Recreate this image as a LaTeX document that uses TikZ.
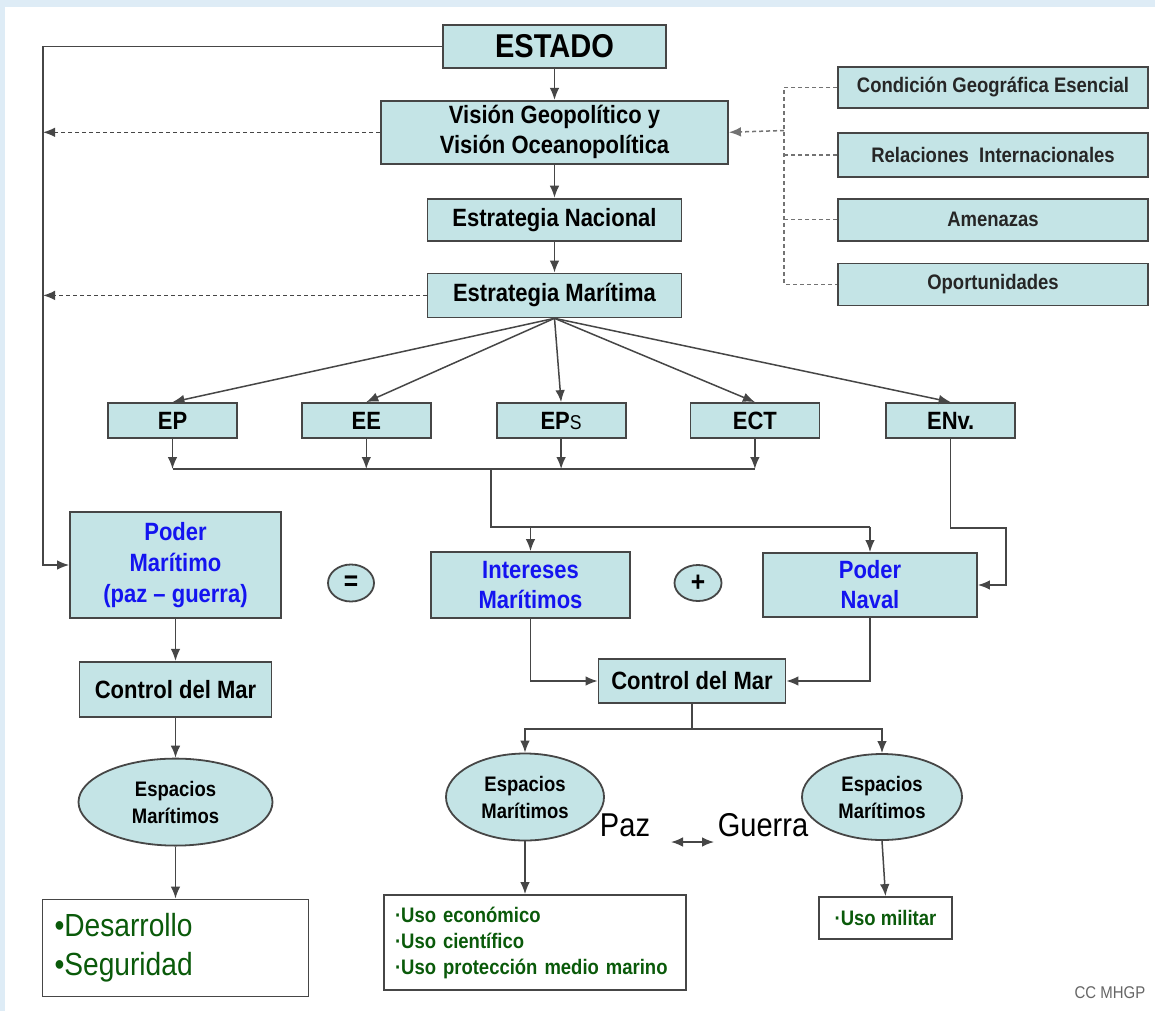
\documentclass[tikz,border=0pt]{standalone}
\usepackage{fontspec}
\setmainfont{Liberation Sans}[FakeStretch=0.88]
\usetikzlibrary{arrows,arrows.meta,calc,positioning,shapes}

\definecolor{boxfill}{RGB}{196,228,230}
\definecolor{boxline}{RGB}{70,70,70}
\definecolor{textblue}{RGB}{20,20,240}
\definecolor{textgreen}{RGB}{10,90,10}
\definecolor{bgblue}{RGB}{222,236,246}

\begin{document}
\begin{tikzpicture}[x=0.5pt,y=-0.5pt,>={Latex[length=6pt,width=4.8pt]}]
	\tikzstyle{block} = [draw=boxline, fill=boxfill, rectangle, line width=0.9pt, inner sep=0pt, align=center, font=\bfseries\fontsize{12.5}{15}\selectfont]
	\tikzstyle{side} = [block, minimum width=155pt, minimum height=21pt, text=black!85, font=\bfseries\fontsize{10.5}{12}\selectfont]
	\tikzstyle{sub} = [block, minimum width=64.5pt, minimum height=17.5pt]
	\tikzstyle{zone} = [draw=boxline, fill=boxfill, ellipse, line width=0.9pt, inner sep=0pt, align=center, font=\bfseries\fontsize{10.5}{13.5}\selectfont]
	\tikzstyle{sign} = [zone, font=\bfseries\fontsize{14}{14}\selectfont]
	\tikzstyle{list} = [draw=boxline, fill=white, rectangle, line width=0.9pt, inner sep=0pt, align=left, text=textgreen]
	\tikzstyle{link} = [draw=boxline, line width=0.75pt]
	\tikzstyle{dotline} = [dash pattern=on 2pt off 1.5pt]
	\tikzstyle{dashline} = [draw=black!55, dash pattern=on 2pt off 1.5pt]

	% background
	\useasboundingbox (0,0) rectangle (1155,1011);
	\fill [bgblue] (0,0) rectangle (1155,1011);
	\fill [white] (5,7) rectangle (1155,1011);

	% main chain
	\node [block, minimum width=111.5pt, minimum height=21.5pt, font=\bfseries\fontsize{16.5}{18}\selectfont] (estado) at (554.5,46.5) {ESTADO};
	\node [block, minimum width=173.5pt, minimum height=31.5pt, below = 15.5pt of estado] (vision) {Visión Geopolítico y\\Visión Oceanopolítica};
	\node [block, minimum width=127pt, minimum height=21pt, below = 16.5pt of vision] (estnac) {Estrategia Nacional};
	\node [block, minimum width=127pt, minimum height=22pt, below = 15.5pt of estnac] (estmar) {Estrategia Marítima};

	% factors
	\node [side, minimum height=20.5pt] (cond) at (993,87.5) {Condición Geográfica Esencial};
	\node [side, minimum height=22pt, below = 11.5pt of cond] (rel) {Relaciones\ \ Internacionales};
	\node [side, below = 10pt of rel] (amen) {Amenazas};
	\node [side, below = 10.5pt of amen] (opor) {Oportunidades};

	% strategies
	\node [sub] (ep) at (172.5,420.5) {EP};
	\node [sub, right = 31.5pt of ep] (ee) {EE};
	\node [sub, right = 32pt of ee] (eps) {EP{\mdseries\fontsize{10}{10}\selectfont S}};
	\node [sub, right = 31.5pt of eps] (ect) {ECT};
	\node [sub, right = 32.5pt of ect] (env) {ENv.};

	% powers
	\node [block, text=textblue, minimum width=105.5pt, minimum height=53pt, font=\bfseries\fontsize{12.5}{15.5}\selectfont] (podermar) at (175.5,565) {Poder\\Marítimo\\(paz – guerra)};
	\node [sign, minimum width=23pt, minimum height=18.5pt] (igual) at (351,583) {=};
	\node [block, text=textblue, minimum width=99.5pt, minimum height=33pt] (intereses) at (530.5,585) {Intereses\\Marítimos};
	\node [sign, minimum width=23.5pt, minimum height=18pt] (mas) at (698,583) {+};
	\node [block, text=textblue, minimum width=107pt, minimum height=32pt] (podernav) at (870,585) {Poder\\Naval};

	% sea control
	\node [block, minimum width=96pt, minimum height=27.5pt, below = 21pt of podermar] (controlA) {Control del Mar};
	\node [zone, minimum width=97pt, minimum height=43.5pt, below = 20pt of controlA] (espA) {Espacios\\Marítimos};
	\node [list, inner xsep=6pt, text width=121pt, minimum height=48.5pt, font=\fontsize{16}{19.5}\selectfont, below = 26pt of espA] (desarrollo) {•Desarrollo\\•Seguridad};

	\node [block, minimum width=93.5pt, minimum height=22pt] (controlB) at (692,681) {Control del Mar};
	\node [zone, minimum width=79pt, minimum height=43.5pt] (espB) at (525,797) {Espacios\\Marítimos};
	\node [zone, minimum width=80pt, minimum height=43pt] (espC) at (882,797) {Espacios\\Marítimos};
	\node [list, inner xsep=5.5pt, text width=140pt, minimum height=47.5pt, font=\bfseries\fontsize{10.5}{13}\selectfont] (uso) at (535,942.5) {·Uso económico\\·Uso científico\\·Uso protección medio marino};
	\node [list, minimum width=66.5pt, minimum height=21pt, font=\bfseries\fontsize{10.5}{13}\selectfont] (militar) at (885.5,918) {·Uso militar};

	\node [font=\fontsize{16.5}{18}\selectfont] (paz) at (625,825) {Paz};
	\node [font=\fontsize{16.5}{18}\selectfont] (guerra) at (763,825) {Guerra};
	\coordinate (pg1) at (671,842);
	\coordinate (pg2) at (714,842);

	\node [text=black!60, font=\fontsize{8.5}{10}\selectfont] (cc) at (1110,993) {CC MHGP};

	% connectors
	\coordinate (lft) at (43,300);
	\draw [link,->] (estado.west) -| (lft) |- (podermar.west);
	\draw [link,dotline,->] (vision.west) -- (vision.west -| lft);
	\draw [link,dotline,->] (estmar.west) -- (estmar.west -| lft);
	\draw [link,->] (estado) -- (vision);
	\draw [link,->] (vision) -- (estnac);
	\draw [link,->] (estnac) -- (estmar);

	\coordinate (dv) at (784,130.5);
	\draw [link,dashline] (cond.west) -| (dv) |- (opor.west);
	\draw [link,dashline] (rel.west) -- (rel.west -| dv);
	\draw [link,dashline] (amen.west) -- (amen.west -| dv);
	\draw [link,dashline,->] (dv) -- (vision.east);

	\foreach \n in {ep,ee,eps,ect,env}
		\draw [link,->] (estmar.south) -- (\n.north);

	\coordinate (bus) at (491,469);
	\foreach \n in {ep,ee,eps,ect}
		\draw [link,->] (\n.south) -- (\n.south |- bus);
	\draw [link] (ep.south |- bus) -- (ect.south |- bus);
	\coordinate (fork) at (491,527);
	\draw [link] (bus) -- (fork) -- (fork -| podernav.north);
	\draw [link,->] (fork -| intereses.north) -- (intereses.north);
	\draw [link,->] (fork -| podernav.north) -- (podernav.north);
	\coordinate (navk) at (1006,528);
	\draw [link,->] (env.south) |- (navk) |- (podernav.east);

	\draw [link,->] (podermar) -- (controlA);
	\draw [link,->] (controlA) -- (espA);
	\draw [link,->] (espA) -- (desarrollo);

	\draw [link,->] (intereses.south) |- (controlB.west);
	\draw [link,->] (podernav.south) |- (controlB.east);
	\coordinate (split) at (692,729);
	\draw [link] (controlB.south) -- (split);
	\draw [link,->] (split) -| (espB.north);
	\draw [link,->] (split) -| (espC.north);
	\draw [link,->] (espB.south) -- (espB.south |- uso.north);
	\draw [link,->] (espC.south) -- (militar.north);
	\draw [link,<->] (pg1) -- (pg2);
\end{tikzpicture}
\end{document}
